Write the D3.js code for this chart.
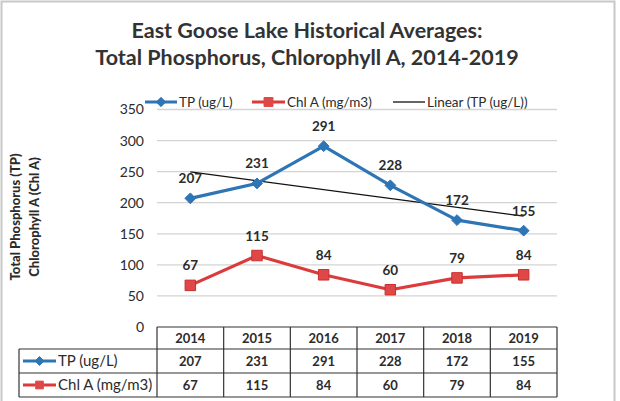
<!DOCTYPE html>
<html><head><meta charset="utf-8">
<script src="https://cdn.jsdelivr.net/npm/d3@7"></script>
<style>body{margin:0;background:#fff}svg{display:block}</style>
</head><body><svg id="c" width="620" height="401"></svg>
<script>
const years = ["2014","2015","2016","2017","2018","2019"];
const tpValues = [207,231,291,228,172,155];
const chlValues = [67,115,84,60,79,84];
const yTicks = [0,50,100,150,200,250,300,350];
const seriesNames = ["TP (ug/L)","Chl A (mg/m3)","Linear (TP (ug/L))"];
const titleLines = ["East Goose Lake Historical Averages:","Total Phosphorus, Chlorophyll A, 2014-2019"];
const yTitleLines = ["Total Phosphorus  (TP)","Chlorophyll A (Chl A)"];

const blue = "#2e75b6", red = "#dc3b3b", textC = "#2b2b2b";
const font = "Lato, 'Open Sans', sans-serif";
const svg = d3.select("#c");
svg.append("rect").attr("x",1.5).attr("y",1.5).attr("width",613).attr("height",405)
  .attr("fill","#fff").attr("stroke","#c8c8c8").attr("stroke-width",2);

// title
svg.selectAll("text.title").data(titleLines).join("text")
  .attr("x",307).attr("y",(d,i)=>38+i*27).attr("text-anchor","middle")
  .attr("font-family",font).attr("font-weight","bold").attr("font-size",21.5)
  .attr("fill","#333").text(d=>d);

const x = d3.scaleBand().domain(years).range([157,557]);
const y = d3.scaleLinear().domain([0,350]).range([327,109.5]);
const cx = d => x(d)+x.bandwidth()/2;

// grid
svg.append("g").selectAll("line").data(yTicks.filter(t=>t>0)).join("line")
  .attr("x1",157).attr("x2",557).attr("y1",d=>y(d)).attr("y2",d=>y(d))
  .attr("stroke","#d4d4d4").attr("stroke-width",1.3);

// y axis labels
const yAxis = d3.axisLeft(y).tickValues(yTicks).tickSize(0).tickPadding(0);
const ga = svg.append("g").attr("transform","translate(144,0)").call(yAxis);
ga.select(".domain").remove();
ga.selectAll("text").attr("font-family",font).attr("font-size",14).attr("fill",textC);

// y title
svg.append("g").attr("transform","translate(0,217) rotate(-90)")
  .selectAll("text").data(yTitleLines).join("text")
  .attr("x",0).attr("y",(d,i)=>20+i*18.5).attr("text-anchor","middle")
  .attr("font-family",font).attr("font-weight","900").attr("font-size",13)
  .attr("fill",textC).text(d=>d);

// trendline via least squares
const xi = years.map((d,i)=>i);
const mx = d3.mean(xi), my = d3.mean(tpValues);
const slope = d3.sum(xi.map((v,i)=>(v-mx)*(tpValues[i]-my)))/d3.sum(xi.map(v=>(v-mx)**2));
const icpt = my - slope*mx;
svg.append("line").attr("x1",cx(years[0])).attr("x2",cx(years[5]))
  .attr("y1",y(icpt)).attr("y2",y(icpt+slope*5))
  .attr("stroke","#111").attr("stroke-width",1.3);

const line = d3.line().x((d,i)=>cx(years[i])).y(d=>y(d));
svg.append("path").datum(tpValues).attr("d",line).attr("fill","none")
  .attr("stroke",blue).attr("stroke-width",3.2).attr("stroke-linejoin","round");
svg.append("path").datum(chlValues).attr("d",line).attr("fill","none")
  .attr("stroke",red).attr("stroke-width",3.2).attr("stroke-linejoin","round");

const diamond = d3.symbol().type(d3.symbolDiamond2).size(75);
const square = d3.symbol().type(d3.symbolSquare).size(110);
svg.append("g").selectAll("path").data(tpValues).join("path")
  .attr("d",diamond).attr("transform",(d,i)=>`translate(${cx(years[i])},${y(d)})`)
  .attr("fill",blue).attr("stroke",blue);
svg.append("g").selectAll("path").data(chlValues).join("path")
  .attr("d",square).attr("transform",(d,i)=>`translate(${cx(years[i])},${y(d)})`)
  .attr("fill","#e04848").attr("stroke","#c83030");

// data labels
const lab = (vals) => svg.append("g").selectAll("text").data(vals).join("text")
  .attr("x",(d,i)=>cx(years[i])).attr("y",d=>y(d)-15).attr("text-anchor","middle")
  .attr("font-family",font).attr("font-weight","bold").attr("font-size",13.5)
  .attr("fill",textC).text(d=>d);
lab(tpValues); lab(chlValues);

// legend
const lg = svg.append("g").attr("font-family",font).attr("font-size",13.5).attr("fill",textC);
function key(g, x0, x1, col, sym, fill) {
  g.append("line").attr("x1",x0).attr("x2",x1).attr("y1",0).attr("y2",0).attr("stroke",col).attr("stroke-width",col==="#111"?1.3:3);
  if (sym) g.append("path").attr("d",sym).attr("transform",`translate(${(x0+x1)/2},0)`).attr("fill",fill).attr("stroke",fill);
}
const legendItems = [{x0:145,x1:177,col:blue,sym:d3.symbol().type(d3.symbolDiamond2).size(55),fill:blue},{x0:252,x1:285,col:red,sym:d3.symbol().type(d3.symbolSquare).size(80),fill:"#e04848"},{x0:393,x1:425,col:"#111",sym:null}];
legendItems.forEach((it,i)=>{
  const g = lg.append("g").attr("transform","translate(0,102)");
  key(g,it.x0,it.x1,it.col,it.sym,it.fill);
  g.append("text").attr("x",it.x1+2).attr("y",4.5).text(seriesNames[i]);
});

// data table
const tb = svg.append("g").attr("font-family",font).attr("font-weight","bold").attr("font-size",13).attr("fill",textC);
const rowY = [327,349,373,397];
const bc = "#333";
tb.append("line").attr("x1",157).attr("x2",557).attr("y1",rowY[0]).attr("y2",rowY[0]).attr("stroke",bc).attr("stroke-width",1.2);
[1,2,3].forEach(r=>tb.append("line").attr("x1",19).attr("x2",557).attr("y1",rowY[r]).attr("y2",rowY[r]).attr("stroke",bc).attr("stroke-width",1.2));
years.forEach(yr=>tb.append("line").attr("x1",x(yr)).attr("x2",x(yr)).attr("y1",rowY[0]).attr("y2",rowY[3]).attr("stroke",bc).attr("stroke-width",1.2));
tb.append("line").attr("x1",557).attr("x2",557).attr("y1",rowY[0]).attr("y2",rowY[3]).attr("stroke",bc).attr("stroke-width",1.2);
tb.append("line").attr("x1",19).attr("x2",19).attr("y1",rowY[1]).attr("y2",rowY[3]).attr("stroke",bc).attr("stroke-width",1.2);
tb.selectAll("text.h").data(years).join("text").attr("x",d=>cx(d)).attr("y",343).attr("text-anchor","middle").text(d=>d);
tb.selectAll("text.tp").data(tpValues).join("text").attr("x",(d,i)=>cx(years[i])).attr("y",366).attr("text-anchor","middle").text(d=>d);
tb.selectAll("text.ch").data(chlValues).join("text").attr("x",(d,i)=>cx(years[i])).attr("y",390).attr("text-anchor","middle").text(d=>d);
const k1 = tb.append("g").attr("transform","translate(0,361)");
key(k1,23,56,blue,d3.symbol().type(d3.symbolDiamond2).size(50),blue);
k1.append("text").attr("x",58).attr("y",5).attr("font-weight","normal").attr("font-size",15).text(seriesNames[0]);
const k2 = tb.append("g").attr("transform","translate(0,385)");
key(k2,23,56,red,d3.symbol().type(d3.symbolSquare).size(60),"#e04848");
k2.append("text").attr("x",58).attr("y",5).attr("font-weight","normal").attr("font-size",15).text(seriesNames[1]);
</script></body></html>
